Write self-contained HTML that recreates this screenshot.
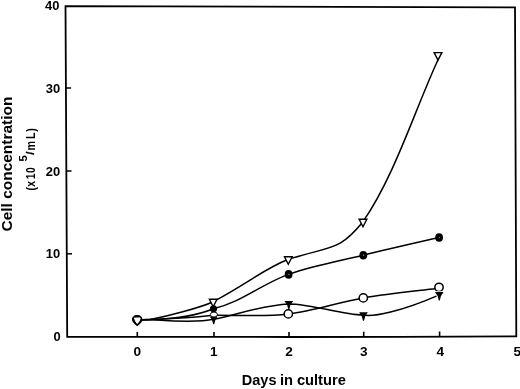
<!DOCTYPE html>
<html><head><meta charset="utf-8"><title>Cell concentration</title>
<style>html,body{margin:0;padding:0;background:#fff;overflow:hidden}.t{font-family:"Liberation Sans",sans-serif;font-weight:bold;fill:#000}</style></head>
<body>
<svg width="520" height="389" viewBox="0 0 520 389" style="display:block">
<rect width="520" height="389" fill="#fff"/>
<path d="M516.3,336.3 L400,336.8 L290,337.0 L67.2,336.8 L65.5,6.1 L515.0,7.4 Z" fill="none" stroke="#000" stroke-width="1.8" stroke-linejoin="miter"/>
<path d="M137.3,336.9 L137.3,331.9" stroke="#000" stroke-width="1.6"/>
<path d="M214.0,336.9 L214.0,331.9" stroke="#000" stroke-width="1.6"/>
<path d="M289.0,336.9 L289.0,331.9" stroke="#000" stroke-width="1.6"/>
<path d="M363.7,336.7 L363.7,331.7" stroke="#000" stroke-width="1.6"/>
<path d="M439.6,336.5 L439.6,331.5" stroke="#000" stroke-width="1.6"/>
<path d="M67.0,253.8 L72.0,253.8" stroke="#000" stroke-width="1.5"/>
<path d="M66.5,171.0 L71.5,171.0" stroke="#000" stroke-width="1.5"/>
<path d="M66.1,88.0 L71.1,88.0" stroke="#000" stroke-width="1.5"/>
<g fill="none" stroke="#000" stroke-width="1.5" stroke-linecap="round">
<path d="M141,319.8 L150.5,319.6 C165.4,316.4 200.7,307.7 213.2,301.7 C249.0,282.5 263.3,269.4 288.3,259.3 C333.3,245.5 338.9,251.0 363.0,221.7 C394.9,175.1 414.3,111.3 437.7,60.5"/>
<path d="M141,319.8 L150.5,319.6 C172.0,319.0 196.0,315.8 213.5,308.7 C241.5,302.4 261.5,284.0 288.6,274.4 C313.6,265.5 338.2,261.3 363.3,255.2 C388.4,249.0 426.5,240.4 439.1,237.5"/>
<path d="M141,319.8 L150.5,319.6 C169.7,318.2 192.8,318.0 213.8,315.3 C236.0,315.1 263.4,316.8 288.3,313.9 C313.2,311.0 338.6,302.1 363.3,297.9 C388.1,293.6 412.0,291.4 436.5,288.5"/>
<path d="M141,319.8 L150.5,319.6 C170.0,320.8 196.0,323.0 213.7,319.3 C233.7,315.9 262.0,304.9 288.8,303.9 C313.2,303.9 340.2,314.9 363.5,315.1 C372.8,317.2 401.2,311.6 439.3,294.9"/>
</g>
<ellipse cx="213.9" cy="314.6" rx="3.5" ry="2.6" fill="#fff" stroke="#000" stroke-width="1"/>
<ellipse cx="213.5" cy="308.7" rx="3.6" ry="3.5" fill="#000"/>
<path d="M209.90,316.83 L217.50,316.83 Q214.80,319.94 214.20,324.23 L213.20,324.23 Q212.60,319.94 209.90,316.83 Z" fill="#000"/>
<path d="M209.35,299.20 L217.05,299.20 L213.20,306.70 Z" fill="#fff" stroke="#000" stroke-width="1.4" stroke-linejoin="miter"/>
<circle cx="288.3" cy="313.9" r="4.15" fill="#fff" stroke="#000" stroke-width="1.5"/>
<circle cx="363.3" cy="297.9" r="4.15" fill="#fff" stroke="#000" stroke-width="1.5"/>
<circle cx="439.0" cy="287.3" r="4.15" fill="#fff" stroke="#000" stroke-width="1.5"/>
<ellipse cx="288.6" cy="274.4" rx="3.9" ry="4.3" fill="#000"/><circle cx="288.9" cy="274.5" r="0.7" fill="#8a8a8a"/>
<ellipse cx="363.3" cy="255.2" rx="3.9" ry="4.3" fill="#000"/><circle cx="363.6" cy="255.3" r="0.7" fill="#8a8a8a"/>
<ellipse cx="439.1" cy="237.5" rx="3.9" ry="4.3" fill="#000"/><circle cx="439.4" cy="237.6" r="0.7" fill="#8a8a8a"/>
<path d="M284.45,301.10 L293.15,301.10 Q289.90,304.63 289.30,309.50 L288.30,309.50 Q287.70,304.63 284.45,301.10 Z" fill="#000"/>
<path d="M359.15,312.30 L367.85,312.30 Q364.60,315.83 364.00,320.70 L363.00,320.70 Q362.40,315.83 359.15,312.30 Z" fill="#000"/>
<path d="M434.95,292.10 L443.65,292.10 Q440.40,295.63 439.80,300.50 L438.80,300.50 Q438.20,295.63 434.95,292.10 Z" fill="#000" stroke="#fff" stroke-width="1.6" paint-order="stroke"/>
<path d="M284.45,256.80 L292.15,256.80 L288.30,264.30 Z" fill="#fff" stroke="#000" stroke-width="1.4" stroke-linejoin="miter"/>
<path d="M359.15,219.20 L366.85,219.20 L363.00,226.70 Z" fill="#fff" stroke="#000" stroke-width="1.4" stroke-linejoin="miter"/>
<path d="M434.15,52.60 L441.85,52.60 L438.00,60.10 Z" fill="#fff" stroke="#000" stroke-width="1.4" stroke-linejoin="miter"/>
<path d="M132,320.3 C131.6,316.8 134,314.9 137.2,314.9 C140.4,314.9 142.8,316.8 142.4,320.3 C141.8,322.6 139.2,324.6 137.2,326.3 C135.2,324.6 132.6,322.6 132,320.3 Z" fill="#000"/>
<path d="M134.5,318 L140.2,318 Q139.7,321.2 137.3,323.5 Q135,321.2 134.5,318 Z" fill="#fff" stroke="#fff" stroke-width="1" stroke-linejoin="round"/>
<text x="53.4" y="341.3" font-size="13.2" textLength="7.2" lengthAdjust="spacingAndGlyphs" class="t">0</text>
<text x="45.7" y="258.4" font-size="13.2" textLength="14.4" lengthAdjust="spacingAndGlyphs" class="t">10</text>
<text x="45.7" y="175.7" font-size="13.2" textLength="14.4" lengthAdjust="spacingAndGlyphs" class="t">20</text>
<text x="45.7" y="92.7" font-size="13.2" textLength="14.4" lengthAdjust="spacingAndGlyphs" class="t">30</text>
<text x="45.1" y="10.0" font-size="12.4" textLength="14.4" lengthAdjust="spacingAndGlyphs" class="t">40</text>
<text x="133.6" y="355.7" font-size="13.3" textLength="7.6" lengthAdjust="spacingAndGlyphs" class="t">0</text>
<text x="209.9" y="355.7" font-size="13.3" textLength="7.6" lengthAdjust="spacingAndGlyphs" class="t">1</text>
<text x="285.2" y="355.7" font-size="13.3" textLength="7.6" lengthAdjust="spacingAndGlyphs" class="t">2</text>
<text x="359.9" y="355.7" font-size="13.3" textLength="7.6" lengthAdjust="spacingAndGlyphs" class="t">3</text>
<text x="436.4" y="355.7" font-size="13.3" textLength="7.6" lengthAdjust="spacingAndGlyphs" class="t">4</text>
<text x="513.5" y="355.7" font-size="13.3" textLength="7.6" lengthAdjust="spacingAndGlyphs" class="t">5</text>
<text y="384.6" font-size="15.5" class="t"><tspan x="241.8" textLength="34.7" lengthAdjust="spacingAndGlyphs">Days</tspan> <tspan x="280" textLength="13.1" lengthAdjust="spacingAndGlyphs">in</tspan> <tspan x="296.9" textLength="49" lengthAdjust="spacingAndGlyphs">culture</tspan></text>
<text transform="translate(12.3,231.5) rotate(-90)" font-size="14.8" textLength="134.9" lengthAdjust="spacingAndGlyphs" class="t">Cell concentration</text>
<text transform="translate(34.6,190.9) rotate(-90) scale(0.85,1)" x="0.46 4.94 13.74 20.93" font-size="12.2" class="t">(x10</text>
<text transform="translate(26.9,161.5) rotate(-90)" font-size="11.4" class="t">5</text>
<text transform="translate(34.0,154.7) rotate(-90)" font-size="11.5" stroke="#000" stroke-width="0.3" class="t">/</text>
<text transform="translate(34.5,150.0) rotate(-90) scale(0.88,1)" x="-0.5 12.57 20.8" font-size="12.2" class="t">mL)</text>
</svg>
</body></html>
